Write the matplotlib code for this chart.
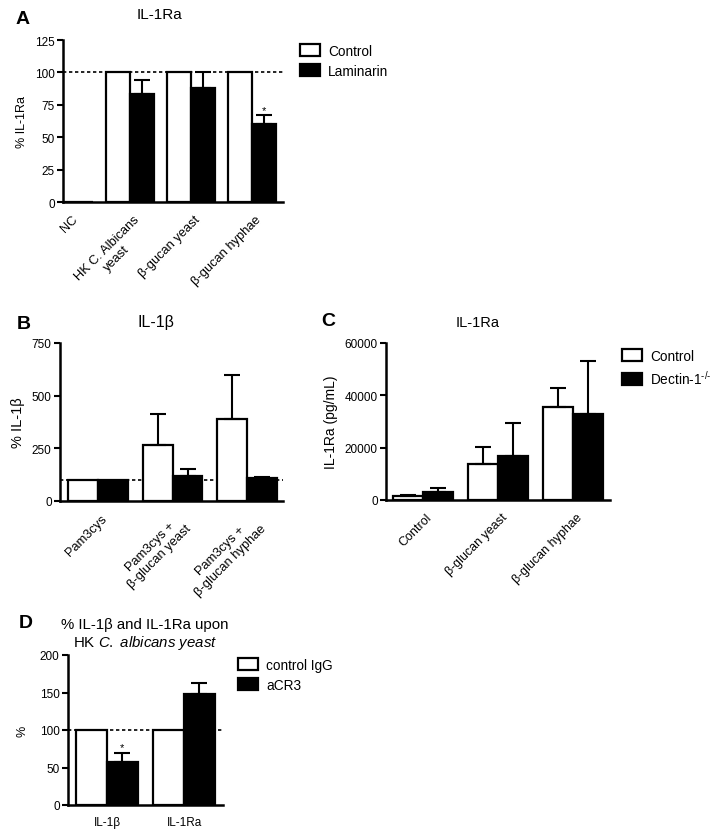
import numpy as np
import matplotlib
matplotlib.use("Agg")
from matplotlib import pyplot as plt
from matplotlib.transforms import ScaledTranslation

plt.rcParams['font.family'] = ['Liberation Sans', 'DejaVu Sans']
plt.rcParams['mathtext.fontset'] = 'custom'
plt.rcParams['mathtext.rm'] = 'Liberation Sans'
plt.rcParams['mathtext.it'] = 'Liberation Sans:italic'

# panel A: IL-1Ra, control vs laminarin
a_groups = ["NC", "HK C. Albicans\nyeast", "β-gucan yeast", "β-gucan hyphae"]
a_control = [0, 100, 100, 100]
a_laminarin = [0, 83.5, 88, 60.5]
a_laminarin_err = [0, 10.5, 12, 7]

# panel B: IL-1b
b_groups = ["Pam3cys", "Pam3cys +\nβ-glucan yeast", "Pam3cys +\nβ-glucan hyphae"]
b_control = [100, 265, 390]
b_control_err = [0, 150, 210]
b_treated = [100, 120, 108]
b_treated_err = [0, 30, 4]

# panel C: IL-1Ra pg/mL, control vs dectin-1 -/-
c_groups = ["Control", "β-glucan yeast", "β-glucan hyphae"]
c_control = [1500, 13900, 35700]
c_control_err = [250, 6200, 7000]
c_dectin = [3200, 16900, 33000]
c_dectin_err = [1200, 12500, 20000]

# panel D: control IgG vs aCR3
d_groups = ["IL-1β", "IL-1Ra"]
d_igg = [100, 100]
d_acr3 = [57.5, 148]
d_acr3_err = [11.5, 15]

W, H = 714, 837
fig = plt.figure(figsize=(W / 100, H / 100), dpi=100)


def box(left, top, right, bottom):
    return [left / W, 1 - bottom / H, (right - left) / W, (bottom - top) / H]


def ftext(x, y, s, **kw):
    fig.text(x / W, 1 - y / H, s, ha="center", va="center", **kw)


def bars(ax, groups, ctrl, ctrl_err, trt, trt_err, rot=True, xsize=9):
    x = np.arange(len(groups))
    w = 0.4
    b1 = ax.bar(x - w / 2, ctrl, w, color="white", edgecolor="black", linewidth=1.6, zorder=2)
    b2 = ax.bar(x + w / 2, trt, w, color="black", edgecolor="black", linewidth=1.6, zorder=2)
    for xs, vals, errs in [(x - w / 2, ctrl, ctrl_err), (x + w / 2, trt, trt_err)]:
        if errs is None:
            continue
        for xi, v, e in zip(xs, vals, errs):
            if e > 0:
                ax.errorbar(xi, v, yerr=[[0], [e]], fmt="none", ecolor="black",
                            elinewidth=1.5, capsize=6, capthick=1.5, zorder=3)
    for s in ["top", "right"]:
        ax.spines[s].set_visible(False)
    for s in ["left", "bottom"]:
        ax.spines[s].set_linewidth(1.8)
    ax.tick_params(axis="y", length=4, width=1.5, labelsize=8.5, pad=2)
    if rot:
        ax.tick_params(axis="x", length=0, labelsize=xsize, pad=8)
        ax.set_xticks(x, groups, rotation=45, ha="right", va="top", rotation_mode="anchor",
                      multialignment="center")
        shift = ScaledTranslation(3 / 100, 0, fig.dpi_scale_trans)
        for lab in ax.get_xticklabels():
            lab.set_transform(lab.get_transform() + shift)
    else:
        ax.tick_params(axis="x", length=0, labelsize=xsize, pad=8)
        ax.set_xticks(x, groups)
    return b1, b2


def legend(ax, handles, labels, x, y):
    ax.legend(handles, labels, loc="upper left", bbox_to_anchor=(x / W, 1 - y / H),
              bbox_transform=fig.transFigure, frameon=False, fontsize=9.8, borderpad=0,
              borderaxespad=0, handlelength=1.5, handleheight=1.0, handletextpad=0.55,
              labelspacing=0.42)


# A
axA = fig.add_axes(box(63, 41, 283, 203))
hA = bars(axA, a_groups, a_control, None, a_laminarin, a_laminarin_err, xsize=9.3)
axA.axhline(100, ls=(0, (2, 1.6)), color="black", lw=1.2, zorder=1)
axA.set_xlim(-0.1, 3.51)
axA.set_ylim(0, 125)
axA.set_yticks([0, 25, 50, 75, 100, 125])
axA.set_ylabel("% IL-1Ra", fontsize=9, labelpad=5)
axA.text(3.2, 71, "*", ha="center", va="center", fontsize=8)
legend(axA, hA, ["Control", "Laminarin"], 300, 45)
ftext(23, 20, "A", fontsize=14, fontweight="bold")
ftext(160, 15, "IL-1Ra", fontsize=11)

# B
axB = fig.add_axes(box(60, 344, 283, 502))
bars(axB, b_groups, b_control, b_control_err, b_treated, b_treated_err, xsize=9.3)
axB.axhline(100, ls=(0, (2, 1.6)), color="black", lw=1.2, zorder=1)
axB.set_xlim(-0.51, 2.48)
axB.set_ylim(0, 750)
axB.set_yticks([0, 250, 500, 750])
axB.set_ylabel("% IL-1β", fontsize=10.5, labelpad=5)
ftext(24, 325, "B", fontsize=14, fontweight="bold")
ftext(156, 323, "IL-1β", fontsize=11.5)

# C
axC = fig.add_axes(box(386, 344, 610, 501))
hC = bars(axC, c_groups, c_control, c_control_err, c_dectin, c_dectin_err, xsize=9)
axC.set_xlim(-0.49, 2.49)
axC.set_ylim(0, 60000)
axC.set_yticks([0, 20000, 40000, 60000])
axC.set_ylabel("IL-1Ra (pg/mL)", fontsize=10, labelpad=5)
legend(axC, hC, ["Control", r"Dectin-1$^{\text{-/-}}$"], 622, 350)
ftext(328, 322, "C", fontsize=14, fontweight="bold")
ftext(478, 323, "IL-1Ra", fontsize=10.5)

# D
axD = fig.add_axes(box(68, 656, 223, 806))
hD = bars(axD, d_groups, d_igg, None, d_acr3, d_acr3_err, rot=False, xsize=8.5)
axD.axhline(100, ls=(0, (2, 1.6)), color="black", lw=1.2, zorder=1)
axD.set_xlim(-0.506, 1.506)
axD.set_ylim(0, 200)
axD.set_yticks([0, 50, 100, 150, 200])
axD.set_ylabel("%", fontsize=9, labelpad=8)
axD.text(0.2, 77, "*", ha="center", va="center", fontsize=8)
legend(axD, hD, ["control IgG", "aCR3"], 238, 659)
ftext(26, 624, "D", fontsize=14, fontweight="bold")
ftext(145, 625, "% IL-1β and IL-1Ra upon", fontsize=10.8)
ftext(145, 643, r"HK $\it{C.\ albicans\ yeast}$", fontsize=10.8)

fig.savefig("out.png", dpi=100)
